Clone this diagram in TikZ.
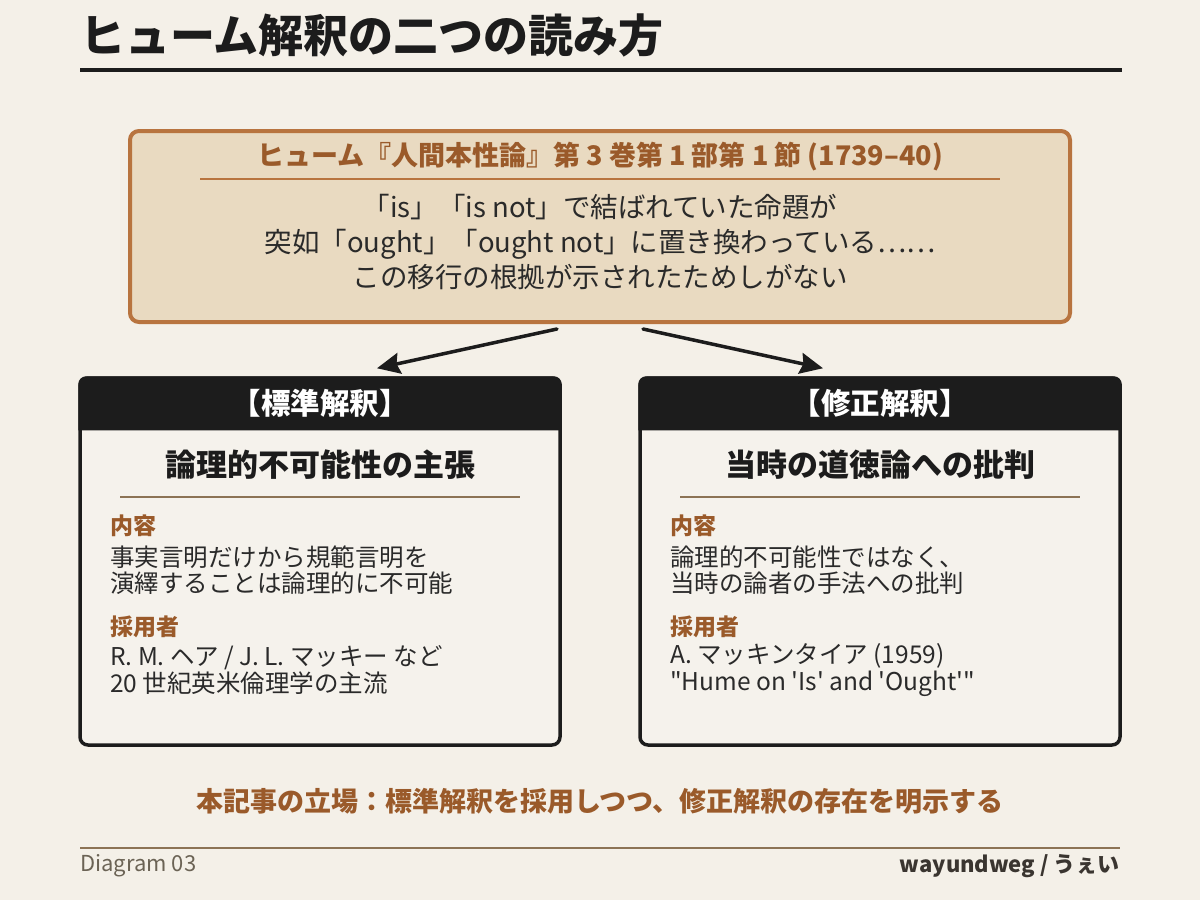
\documentclass[tikz,border=0pt]{standalone}
\usepackage{fontspec}
\setmainfont{Noto Sans CJK JP}[Ligatures=TeXOff]
\usetikzlibrary{positioning, arrows.meta}
\definecolor{bgcream}{HTML}{F4F0E8}
\definecolor{cardcream}{HTML}{F5F2EC}
\definecolor{tancream}{HTML}{E9DAC1}
\definecolor{brownline}{HTML}{B8743F}
\definecolor{brownhead}{HTML}{9A5A2A}
\definecolor{rulebrown}{HTML}{8C7355}
\definecolor{inkdark}{HTML}{1C1C1C}
\definecolor{inkbody}{HTML}{2A2A2A}
\definecolor{footgray}{HTML}{6B6355}
\definecolor{footdark}{HTML}{3A3530}

\begin{document}
\begin{tikzpicture}[x=1pt, y=-1pt,
	card/.style={draw=inkdark, fill=cardcream, line width=3.5pt, rounded corners=8pt, minimum width=480pt, minimum height=367pt},
	cardhead/.style={font=\bfseries\fontsize{29.5}{34}\selectfont, text=white},
	cardtitle/.style={font=\bfseries\fontsize{31}{36}\selectfont, text=inkdark},
	tag/.style={anchor=west, inner sep=0pt, font=\bfseries\fontsize{23}{28}\selectfont, text=brownhead},
	cardbody/.style={anchor=west, align=left, inner sep=0pt, font=\fontsize{24.5}{26.5}\selectfont, text=inkbody},
	flow/.style={-{Stealth[length=23pt, width=21pt, inset=3pt]}, line width=3.5pt, line cap=round, draw=inkdark}]
	\fill[bgcream] (0,0) rectangle (1200,900);
	\useasboundingbox (0,0) rectangle (1200,900);
	% title
	\node[anchor=west, inner sep=0pt, font=\bfseries\fontsize{45}{50}\selectfont, text=inkdark] (title)at(80, 35) {ヒューム解釈の二つの読み方};
	\draw[inkdark, line width=4pt] (80,70) -- (1122,70);
	% source passage
	\node[draw=brownline, line width=4pt, fill=tancream, rounded corners=9pt, minimum width=940pt, minimum height=191pt] (src)at(600, 226.5) {};
	\node[font=\bfseries\fontsize{27}{32}\selectfont, text=brownhead] (srchead)at(600, 157) {ヒューム『人間本性論』第 3 巻第 1 部第 1 節 (1739–40)};
	\draw[brownline, line width=1.5pt] (200,179) -- (1000,179);
	\node[align=center, font=\fontsize{27.5}{35}\selectfont, text=inkbody] (srcbody)at(600, 242) {「is」「is not」で結ばれていた命題が\\突如「ought」「ought not」に置き換わっている……\\この移行の根拠が示されたためしがない};
	% the two readings
	\node[card] (std)at(320, 561.5) {};
	\node[card] (rev)at(880, 561.5) {};
	\fill[inkdark, rounded corners=8pt] ([yshift=-54pt]std.north west) -- (std.north west) -- (std.north east) -- ([yshift=-54pt]std.north east);
	\fill[inkdark, rounded corners=8pt] ([yshift=-54pt]rev.north west) -- (rev.north west) -- (rev.north east) -- ([yshift=-54pt]rev.north east);
	\node[cardhead] (stdhead)at([yshift=-27pt]std.north) {【標準解釈】};
	\node[cardhead] (revhead)at([yshift=-27pt]rev.north) {【修正解釈】};
	\draw[flow] ([xshift=-43pt, yshift=-5pt]src.south) -- ([xshift=57pt, yshift=8pt]std.north);
	\draw[flow] ([xshift=43pt, yshift=-5pt]src.south) -- ([xshift=-57pt, yshift=8pt]rev.north);
	% standard reading
	\node[cardtitle] (stdtitle)at(320, 465) {論理的不可能性の主張};
	\draw[rulebrown, line width=2pt] (120,497) -- (520,497);
	\node[tag] (stdwhat)at(110, 526) {内容};
	\node[cardbody] (stdtext)at(110, 570) {事実言明だけから規範言明を\\演繹することは論理的に不可能};
	\node[tag] (stdwho)at(110, 627) {採用者};
	\node[cardbody] (stdnames)at(110, 670) {R. M. ヘア / J. L. マッキー など\\20 世紀英米倫理学の主流};
	% revisionist reading
	\node[cardtitle] (revtitle)at(880, 465) {当時の道徳論への批判};
	\draw[rulebrown, line width=2pt] (680,497) -- (1080,497);
	\node[tag] (revwhat)at(670, 526) {内容};
	\node[cardbody] (revtext)at(670, 570) {論理的不可能性ではなく、\\当時の論者の手法への批判};
	\node[tag] (revwho)at(670, 627) {採用者};
	\node[cardbody] (revnames)at(670, 670) {A. マッキンタイア (1959)\\"Hume on 'Is' and 'Ought'"};
	% stance and footer
	\node[font=\bfseries\fontsize{27}{32}\selectfont, text=brownhead] (stance)at(600, 801) {本記事の立場：標準解釈を採用しつつ、修正解釈の存在を明示する};
	\draw[rulebrown, line width=1.5pt] (80,848) -- (1120,848);
	\node[anchor=west, inner sep=0pt, font=\fontsize{22}{26}\selectfont, text=footgray] (diag)at(80, 866) {Diagram 03};
	\node[anchor=east, inner sep=0pt, font=\bfseries\fontsize{22}{26}\selectfont, text=footdark] (sign)at(1120, 866) {wayundweg / うぇい};
\end{tikzpicture}
\end{document}
